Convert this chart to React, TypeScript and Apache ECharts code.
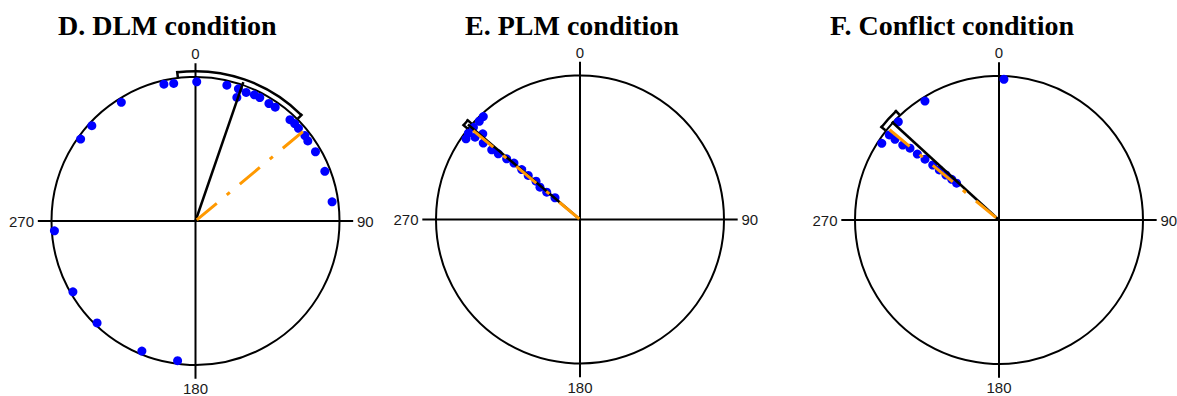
import React, { useEffect, useRef } from "react";
import * as echarts from "echarts";

// ---------------- data ----------------
const panelTitles = ["D. DLM condition", "E. PLM condition", "F. Conflict condition"];
const angleTicks = [0, 90, 180, 270];

// dots: [radius (fraction of circle), angle in degrees, clockwise from top]
const dlmDots = [
  [0.975, 347], [0.967, 351], [0.967, 0.5], [0.968, 13], [0.965, 18], [0.905, 18.5],
  [0.96, 21.5], [0.967, 25], [0.967, 27.5], [0.962, 32], [0.965, 35], [0.962, 43],
  [0.965, 45.5], [0.962, 48], [0.964, 52], [0.958, 54.5], [0.962, 60], [0.962, 69],
  [0.958, 82], [0.972, 328], [0.978, 312.6], [0.98, 305.5], [0.982, 266],
  [0.983, 240], [0.984, 224], [0.977, 202.4], [0.978, 187.3],
];
const plmDots = [
  [0.981, 316.8], [0.977, 314.3], [0.979, 310.9], [0.98, 307.7], [0.97, 305.3],
  [0.926, 308.1], [0.9, 311.4], [0.856, 308.3], [0.781, 308.3], [0.728, 308.8],
  [0.661, 309.6], [0.603, 310.5], [0.533, 310.6], [0.472, 310.4], [0.405, 311.1],
  [0.357, 308.9], [0.299, 309.4], [0.23, 311],
];
const conflictDots = [
  [0.978, 2], [0.973, 328.1], [0.977, 314.3], [0.964, 307.8], [0.973, 303.2],
  [0.914, 307.8], [0.847, 307.9], [0.794, 308.9], [0.729, 308.9], [0.665, 309.4],
  [0.598, 309.7], [0.541, 310], [0.483, 310.3], [0.433, 310.7], [0.39, 311],
];
const panelDots = [dlmDots, plmDots, conflictDots];

// black mean-direction line: length, angle
const meanLength = [1.02, 1.02, 1.01];
const meanAngle = [19, 310.3, 312.5];
// orange dash-dot line: length, angle
const orangeLength = [0.97, 0.965, 0.985];
const orangeAngle = [50.2, 309.8, 309.5];
// confidence arcs
const ciLow = [353, 309, 308.3];
const ciHigh = [45, 311.5, 316.6];
const ciRadius = 1.04;
const ciCapInner = 1.005;
const ciCapOuter = 1.05;
// crosshair reach beyond the circle
const crossReach = 1.095;

// ---------------- layout ----------------
const centers = [[195.5, 221], [580, 219.5], [999, 220]];
const circleRadius = 144;
const titleLeft = [58, 465, 830];

const segmentRenderer = (width: number) => (params: any, api: any) => {
  const p0 = api.coord([api.value(0), api.value(1)]);
  const p1 = api.coord([api.value(2), api.value(3)]);
  return {
    type: "line",
    shape: { x1: p0[0], y1: p0[1], x2: p1[0], y2: p1[1] },
    style: { stroke: "#000", lineWidth: width, lineCap: "butt" },
  };
};

export default function App() {
  const ref = useRef<HTMLDivElement>(null);

  useEffect(() => {
    if (!ref.current) return;
    const chart = echarts.init(ref.current, undefined, { renderer: "svg" });

    const polar: any[] = [];
    const angleAxis: any[] = [];
    const radiusAxis: any[] = [];
    const series: any[] = [];

    for (let i = 0; i < 3; i++) {
      polar.push({ center: centers[i], radius: circleRadius });
      angleAxis.push({
        polarIndex: i,
        type: "value",
        min: 0,
        max: 360,
        interval: 90,
        startAngle: 90,
        clockwise: true,
        axisLine: { show: true, lineStyle: { color: "#000", width: 2 } },
        axisTick: { show: false },
        splitLine: { show: false },
        axisLabel: {
          show: true,
          margin: 17.5,
          color: "#1a1a1a",
          fontSize: 15,
          lineHeight: 12,
          fontFamily: "Liberation Sans, Arial, sans-serif",
          formatter: (v: number) => (angleTicks.indexOf(v) >= 0 ? String(v) : ""),
        },
        z: 1,
      });
      radiusAxis.push({
        polarIndex: i,
        type: "value",
        min: 0,
        max: 1,
        axisLine: { show: false },
        axisTick: { show: false },
        axisLabel: { show: false },
        splitLine: { show: false },
      });

      // crosshair
      series.push({
        type: "custom",
        coordinateSystem: "polar",
        polarIndex: i,
        clip: false,
        silent: true,
        data: [
          [crossReach, 0, crossReach, 180],
          [crossReach, 90, crossReach, 270],
        ],
        renderItem: segmentRenderer(2),
        z: 2,
      });
      // dots
      series.push({
        type: "scatter",
        coordinateSystem: "polar",
        polarIndex: i,
        data: panelDots[i],
        symbol: "circle",
        symbolSize: 9,
        clip: false,
        itemStyle: { color: "#0000ff", opacity: 1 },
        z: 3,
      });
      // mean direction
      series.push({
        type: "custom",
        coordinateSystem: "polar",
        polarIndex: i,
        clip: false,
        data: [[meanLength[i], meanAngle[i], 0, meanAngle[i]]],
        renderItem: segmentRenderer(2.5),
        z: 4,
      });
      // orange dash-dot
      series.push({
        type: "line",
        coordinateSystem: "polar",
        polarIndex: i,
        data: [[orangeLength[i], orangeAngle[i]], [0, orangeAngle[i]]],
        symbol: "none",
        clip: false,
        lineStyle: { color: "#ff9900", width: 3, type: [26, 13, 4, 13], opacity: 1 },
        z: 5,
      });
      // confidence arc
      series.push({
        type: "custom",
        coordinateSystem: "polar",
        polarIndex: i,
        clip: false,
        data: [[ciRadius, ciLow[i], ciHigh[i], ciCapInner, ciCapOuter]],
        renderItem: (params: any, api: any) => {
          const cs = params.coordSys;
          const cx = cs.cx;
          const cy = cs.cy;
          const r = api.value(0);
          const lo = api.value(1);
          const hi = api.value(2);
          const rin = api.value(3);
          const rout = api.value(4);
          const pLo = api.coord([r, lo]);
          const pHi = api.coord([r, hi]);
          const rad = Math.hypot(pLo[0] - cx, pLo[1] - cy);
          const a0 = Math.atan2(pLo[1] - cy, pLo[0] - cx);
          let a1 = Math.atan2(pHi[1] - cy, pHi[0] - cx);
          if (a1 < a0) a1 += Math.PI * 2;
          const c0a = api.coord([rin, lo]);
          const c0b = api.coord([rout, lo]);
          const c1a = api.coord([rin, hi]);
          const c1b = api.coord([rout, hi]);
          return {
            type: "group",
            children: [
              {
                type: "arc",
                shape: { cx, cy, r: rad, startAngle: a0, endAngle: a1, clockwise: true },
                style: { stroke: "#000", lineWidth: 2.5, fill: "none" },
              },
              { type: "line", shape: { x1: c0a[0], y1: c0a[1], x2: c0b[0], y2: c0b[1] }, style: { stroke: "#000", lineWidth: 2.5 } },
              { type: "line", shape: { x1: c1a[0], y1: c1a[1], x2: c1b[0], y2: c1b[1] }, style: { stroke: "#000", lineWidth: 2.5 } },
            ],
          };
        },
        z: 6,
      });
    }

    chart.setOption({
      animation: false,
      backgroundColor: "#fff",
      title: panelTitles.map((t, i) => ({
        text: t,
        left: titleLeft[i],
        top: 11,
        padding: 0,
        textStyle: {
          fontFamily: "Liberation Serif, Times New Roman, serif",
          fontWeight: "bold",
          fontSize: 28,
          color: "#000",
        },
      })),
      polar,
      angleAxis,
      radiusAxis,
      series,
    });

    return () => chart.dispose();
  }, []);

  return (
    <div
      ref={ref}
      style={{ position: "fixed", left: 0, top: 0, width: 1177, height: 396 }}
    />
  );
}
